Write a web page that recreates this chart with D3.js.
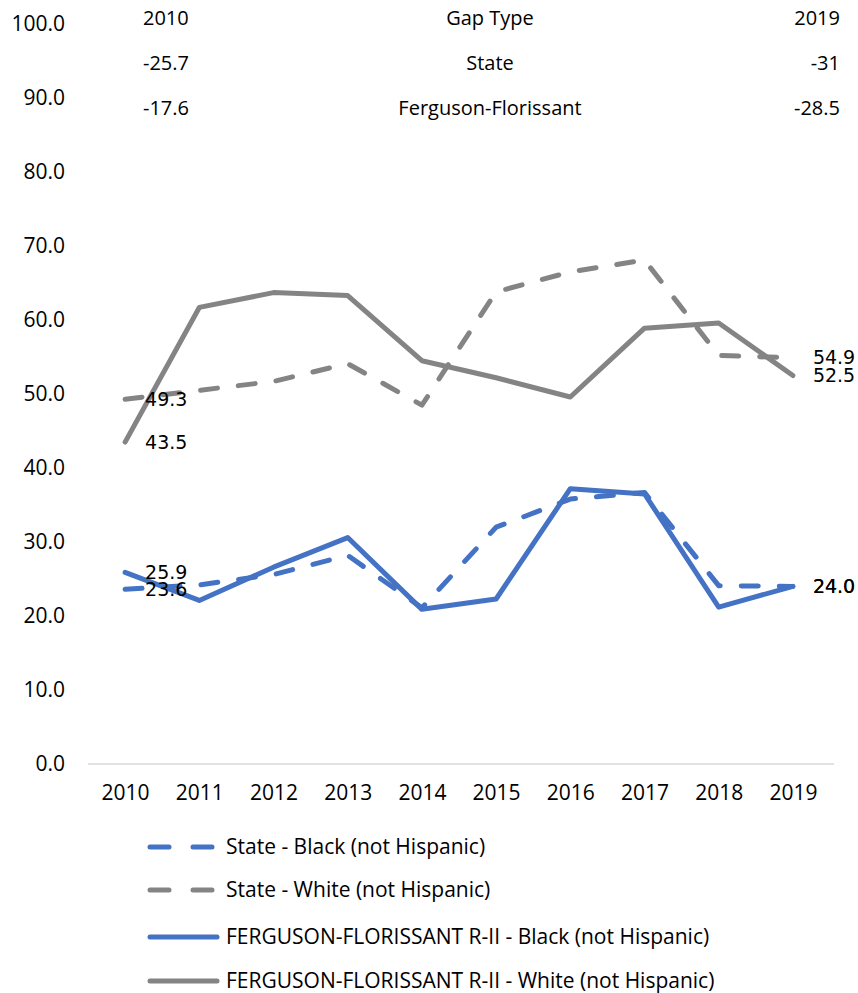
<!DOCTYPE html>
<html>
<head>
<meta charset="utf-8">
<script src="https://cdn.jsdelivr.net/npm/d3@7"></script>
<style>
  html, body { margin: 0; padding: 0; background: #fff; }
  svg { display: block; }
  .tick-label, .table-text, .legend-text { font-family: "Open Sans", "Noto Sans", sans-serif; fill: #000; }
  .data-label { font-family: "DejaVu Sans", sans-serif; fill: #000; }
</style>
</head>
<body>
<div id="chart"></div>
<script>
// chart data
const years = ['2010', '2011', '2012', '2013', '2014', '2015', '2016', '2017', '2018', '2019'];
const stateBlack = [23.6, 24.2, 25.6, 28.2, 21.1, 32.0, 35.8, 36.7, 24.1, 24.0];
const stateWhite = [49.3, 50.5, 51.7, 54.1, 48.5, 63.8, 66.5, 68.1, 55.2, 54.9];
const ffBlack = [25.9, 22.1, 26.6, 30.6, 20.9, 22.3, 37.2, 36.5, 21.2, 24.0];
const ffWhite = [43.5, 61.7, 63.7, 63.3, 54.5, 52.2, 49.6, 58.9, 59.6, 52.5];
const yTicks = [0, 10, 20, 30, 40, 50, 60, 70, 80, 90, 100];

// gap table shown over the top of the chart
const gapHeader = ['2010', 'Gap Type', '2019'];
const gapRows = [
    ['-25.7', 'State', '-31'],
    ['-17.6', 'Ferguson-Florissant', '-28.5']
];

const seriesList = [
    { name: 'State - Black (not Hispanic)', values: stateBlack, color: '#4472C4', dashed: true },
    { name: 'State - White (not Hispanic)', values: stateWhite, color: '#848484', dashed: true },
    { name: 'FERGUSON-FLORISSANT R-II - Black (not Hispanic)', values: ffBlack, color: '#4472C4', dashed: false },
    { name: 'FERGUSON-FLORISSANT R-II - White (not Hispanic)', values: ffWhite, color: '#848484', dashed: false }
];

const width = 858, height = 993;
const margin = { top: 24, right: 28, bottom: 229, left: 88 };
const innerW = width - margin.left - margin.right;
const innerH = height - margin.top - margin.bottom;

const svg = d3.select('#chart').append('svg')
    .attr('width', width)
    .attr('height', height);

const g = svg.append('g')
    .attr('transform', `translate(${margin.left},${margin.top})`);

const x = d3.scalePoint()
    .domain(years)
    .range([0, innerW])
    .padding(0.5);

const y = d3.scaleLinear()
    .domain([0, 100])
    .range([innerH, 0]);

// baseline only, no other gridlines
g.append('line')
    .attr('x1', 0).attr('x2', innerW + 4)
    .attr('y1', y(0)).attr('y2', y(0))
    .attr('stroke', '#d9d9d9')
    .attr('stroke-width', 1.5);

const yAxis = g.append('g')
    .call(d3.axisLeft(y).tickValues(yTicks).tickFormat(d3.format('.1f')).tickSize(0).tickPadding(23));
yAxis.select('.domain').remove();
yAxis.selectAll('text')
    .attr('class', 'tick-label')
    .attr('font-size', '21px')
    .attr('fill', '#000');

const xAxis = g.append('g')
    .attr('transform', `translate(0,${innerH})`)
    .call(d3.axisBottom(x).tickSize(0).tickPadding(21));
xAxis.select('.domain').remove();
xAxis.selectAll('text')
    .attr('class', 'tick-label')
    .attr('font-size', '21px')
    .attr('fill', '#000');

const line = d3.line()
    .x((d, i) => x(years[i]))
    .y(d => y(d));

seriesList.forEach(s => {
    g.append('path')
        .datum(s.values)
        .attr('d', line)
        .attr('fill', 'none')
        .attr('stroke', s.color)
        .attr('stroke-width', 5)
        .attr('stroke-linecap', 'round')
        .attr('stroke-linejoin', 'round')
        .attr('stroke-dasharray', s.dashed ? '17,21' : null);
});

// first and last point labels
seriesList.forEach(s => {
    [0, years.length - 1].forEach(idx => {
        g.append('text')
            .attr('class', 'data-label')
            .attr('x', x(years[idx]) + 20)
            .attr('y', y(s.values[idx]))
            .attr('dy', '0.35em')
            .attr('font-size', '19px')
            .text(s.values[idx].toFixed(1));
    });
});

// gap table
const table = svg.append('g');
const rowY = [18, 63, 108];
[gapHeader].concat(gapRows).forEach((row, r) => {
    table.append('text').attr('class', 'table-text')
        .attr('x', 143).attr('y', rowY[r]).attr('dy', '0.35em')
        .attr('font-size', '20px').text(row[0]);
    table.append('text').attr('class', 'table-text')
        .attr('x', 490).attr('y', rowY[r]).attr('dy', '0.35em')
        .attr('text-anchor', 'middle')
        .attr('font-size', '20px').text(row[1]);
    table.append('text').attr('class', 'table-text')
        .attr('x', 840).attr('y', rowY[r]).attr('dy', '0.35em')
        .attr('text-anchor', 'end')
        .attr('font-size', '20px').text(row[2]);
});

// legend
const legendY = [847, 890, 937, 981];
const legend = svg.append('g');
seriesList.forEach((s, i) => {
    const ly = legendY[i];
    if (s.dashed) {
        [[150, 169], [193, 212]].forEach(seg => {
            legend.append('line')
                .attr('x1', seg[0]).attr('x2', seg[1])
                .attr('y1', ly).attr('y2', ly)
                .attr('stroke', s.color).attr('stroke-width', 5)
                .attr('stroke-linecap', 'round');
        });
    } else {
        legend.append('line')
            .attr('x1', 150).attr('x2', 217)
            .attr('y1', ly).attr('y2', ly)
            .attr('stroke', s.color).attr('stroke-width', 5)
            .attr('stroke-linecap', 'round');
    }
    legend.append('text')
        .attr('class', 'legend-text')
        .attr('x', 226).attr('y', ly).attr('dy', '0.35em')
        .attr('font-size', '21px')
        .text(s.name);
});
</script>
</body>
</html>
